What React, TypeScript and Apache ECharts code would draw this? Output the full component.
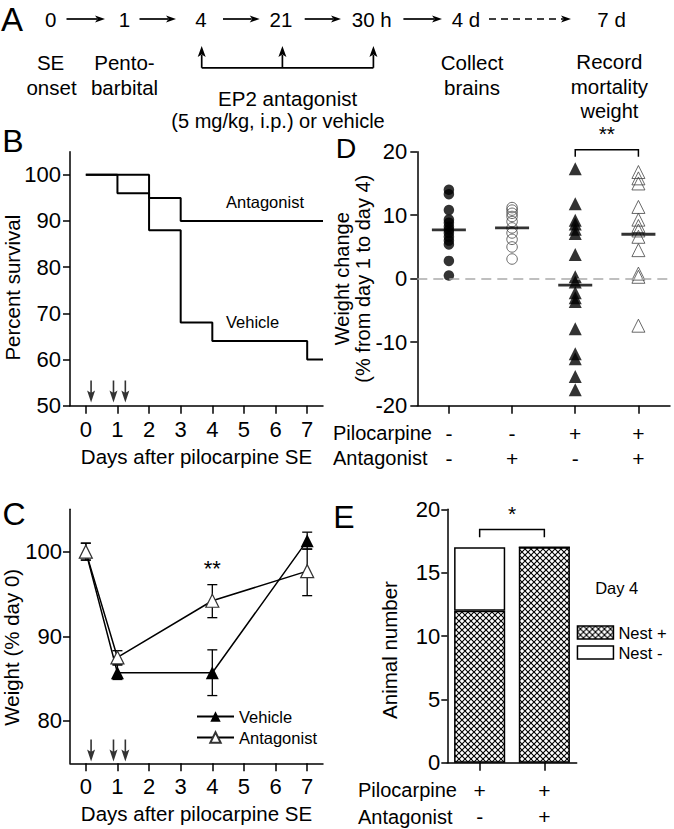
import React, { useEffect, useRef } from 'react';
import * as echarts from 'echarts';

const FONT = '"Liberation Sans", Arial, Helvetica, sans-serif';

// ---------- Panel B: survival ----------
const dayTicks = [0, 1, 2, 3, 4, 5, 6, 7];
const survivalTicks = [50, 60, 70, 80, 90, 100];
const vehicleSurvival: [number, number][] = [[0, 100], [1, 96], [2, 88], [3, 68], [4, 64], [7, 60], [7.5, 60]];
const antagonistSurvival: [number, number][] = [[0, 100], [2, 95], [3, 90], [7.5, 90]];
const injectionDays = [4 / 24, 21 / 24, 30 / 24];

// ---------- Panel C: weight ----------
const weightTicks = [80, 90, 100];
const weightDays = [0, 1, 4, 7];
const vehicleWeight = [100, 85.7, 85.7, 101.3];
const vehicleWeightLow = [99, 84.9, 83.0, 100.3];
const vehicleWeightHigh = [101, 86.6, 88.4, 102.3];
const antagonistWeight = [100, 87.5, 94.2, 97.7];
const antagonistWeightLow = [99, 86.7, 92.2, 94.8];
const antagonistWeightHigh = [101, 88.3, 96.1, 100.3];

// ---------- Panel D: weight change ----------
const dGroups = ['-\n-', '-\n+', '+\n-', '+\n+'];
const shamVehicle = [14, 13.3, 10.8, 9.3, 8.8, 8.2, 7.7, 7.2, 6.6, 6.0, 5.4, 2.8, 0.5];
const shamAntagonist = [11.2, 10.8, 10.3, 9.8, 9.0, 8.0, 7.2, 6.2, 5.0, 3.1];
const piloVehicle = [17.3, 11.8, 9.2, 8.6, 7.8, 7.1, 3.8, 0.3, -0.5, -2.2, -3.0, -3.6, -7.9, -11.8, -12.6, -15.4, -17.5];
const piloAntagonist = [16.8, 15.8, 15.0, 11.3, 9.3, 8.3, 7.6, 6.6, 4.5, 0.8, 0.3, -7.4];
const dMeans = [7.7, 8.0, -1.0, 7.0];

// ---------- Panel E: nesting ----------
const eGroups = ['+\n-', '+\n+'];
const nestPlus = [12, 17];
const nestMinus = [5, 0];

const ARROW = 'path://M3.2,0 L4.8,0 L4.8,12 L8,10 L4,22 L0,10 L3.2,12 Z';

function makeHatch() {
  const s = 6;
  const c = document.createElement('canvas');
  c.width = s;
  c.height = s;
  const ctx = c.getContext('2d')!;
  ctx.fillStyle = '#fff';
  ctx.fillRect(0, 0, s, s);
  ctx.strokeStyle = '#000';
  ctx.lineWidth = 1.1;
  ctx.beginPath();
  ctx.moveTo(-1, -1);
  ctx.lineTo(s + 1, s + 1);
  ctx.moveTo(s + 1, -1);
  ctx.lineTo(-1, s + 1);
  ctx.stroke();
  return { image: c, repeat: 'repeat', imageWidth: s, imageHeight: s } as any;
}

function txt(text: string, x: number, y: number, fontSize = 20, align = 'center') {
  return {
    type: 'text',
    x,
    y,
    style: {
      text,
      fontSize,
      fontFamily: FONT,
      fill: '#000',
      align,
      textAlign: align,
      verticalAlign: 'middle',
      textVerticalAlign: 'middle',
    },
  };
}

function hArrow(x1: number, x2: number, y: number, dashed = false) {
  const head = 10;
  const hw = 3.6;
  return [
    {
      type: 'line',
      shape: { x1, y1: y, x2: x2 - head + 2, y2: y },
      style: { stroke: '#000', lineWidth: 1.7, lineDash: dashed ? [7, 5] : null },
    },
    {
      type: 'polygon',
      shape: { points: [[x2, y], [x2 - head, y - hw], [x2 - head + 2.5, y], [x2 - head, y + hw]] },
      style: { fill: '#000' },
    },
  ];
}

function upArrow(x: number, yTip: number, yBase: number) {
  const head = 11;
  const hw = 4;
  return [
    { type: 'line', shape: { x1: x, y1: yBase, x2: x, y2: yTip + head - 2 }, style: { stroke: '#000', lineWidth: 1.7 } },
    {
      type: 'polygon',
      shape: { points: [[x, yTip], [x - hw, yTip + head], [x, yTip + head - 2.5], [x + hw, yTip + head]] },
      style: { fill: '#000' },
    },
  ];
}

const axisLine = { show: true, onZero: false, lineStyle: { color: '#000', width: 1.5 } };
const tickLine = { color: '#000', width: 1.5 };
const tickLabel = { color: '#000', fontSize: 22, fontFamily: FONT };
const nameStyle = { color: '#000', fontSize: 20.5, fontFamily: FONT };

function dayAxis(gridIndex: number) {
  return {
    type: 'value',
    gridIndex,
    min: -0.5,
    max: 7.5,
    axisLine,
    axisTick: { show: true, length: 8, lineStyle: tickLine, customValues: dayTicks },
    axisLabel: { ...tickLabel, margin: 12.5, customValues: dayTicks },
    splitLine: { show: false },
    name: 'Days after pilocarpine SE',
    nameLocation: 'middle',
    nameGap: 40,
    nameMoveOverlap: false,
    nameTextStyle: nameStyle,
  };
}

function errorBars(low: number[], high: number[]) {
  return {
    type: 'custom',
    xAxisIndex: 1,
    yAxisIndex: 1,
    silent: true,
    data: weightDays.map((d, i) => [d, low[i], high[i]]),
    renderItem: (params: any, api: any) => {
      const x = api.value(0);
      const pLo = api.coord([x, api.value(1)]);
      const pHi = api.coord([x, api.value(2)]);
      const w = 5;
      const st = { stroke: '#000', lineWidth: 1.3 };
      return {
        type: 'group',
        children: [
          { type: 'line', shape: { x1: pLo[0], y1: pLo[1], x2: pHi[0], y2: pHi[1] }, style: st },
          { type: 'line', shape: { x1: pHi[0] - w, y1: pHi[1], x2: pHi[0] + w, y2: pHi[1] }, style: st },
          { type: 'line', shape: { x1: pLo[0] - w, y1: pLo[1], x2: pLo[0] + w, y2: pLo[1] }, style: st },
        ],
      };
    },
  };
}

function bracket(xAxisIndex: number, yAxisIndex: number, row: number[], star: string) {
  return {
    type: 'custom',
    xAxisIndex,
    yAxisIndex,
    silent: true,
    clip: false,
    data: [row],
    renderItem: (params: any, api: any) => {
      const a = api.coord([api.value(0), api.value(2)]);
      const b = api.coord([api.value(1), api.value(2)]);
      const low = api.coord([api.value(0), api.value(3)]);
      const s = api.coord([api.value(0), api.value(4)]);
      const mid = (a[0] + b[0]) / 2;
      return {
        type: 'group',
        children: [
          {
            type: 'polyline',
            shape: { points: [[a[0], low[1]], [a[0], a[1]], [b[0], b[1]], [b[0], low[1]]] },
            style: { stroke: '#000', lineWidth: 1.5, fill: null },
          },
          {
            type: 'text',
            x: mid,
            y: s[1],
            style: {
              text: star, fontSize: 21, fontFamily: FONT, fill: '#000',
              align: 'center', textAlign: 'center', verticalAlign: 'middle', textVerticalAlign: 'middle',
            },
          },
        ],
      };
    },
  };
}

function buildOption() {
  const hatch = makeHatch();
  const graphics: any[] = [
    // panel letters
    txt('A', 12, 19, 33),
    txt('B', 13, 141, 32),
    txt('C', 14, 514, 32),
    txt('D', 346, 148, 28.5),
    txt('E', 344, 517, 32),
    // panel A timeline
    txt('0', 50.6, 19, 20.5),
    txt('1', 124.5, 19, 20.5),
    txt('4', 201, 19, 20.5),
    txt('21', 281, 19, 20.5),
    txt('30 h', 371.8, 19, 20.5),
    txt('4 d', 466, 19, 20.5),
    txt('7 d', 611.6, 19, 20.5),
    ...hArrow(66.5, 105, 19),
    ...hArrow(139.5, 176, 19),
    ...hArrow(223, 259.7, 19),
    ...hArrow(304.7, 341, 19),
    ...hArrow(403.4, 442, 19),
    ...hArrow(489, 571, 19, true),
    txt('SE', 50.6, 62, 20.5),
    txt('onset', 51.5, 87, 20.5),
    txt('Pento-', 124.5, 62, 20.5),
    txt('barbital', 124.5, 87, 20.5),
    txt('Collect', 472, 62, 20.5),
    txt('brains', 472, 87, 20.5),
    txt('Record', 609.4, 61.5, 20.5),
    txt('mortality', 609.4, 86, 20.5),
    txt('weight', 609.4, 110.5, 20),
    ...upArrow(201.7, 46, 67.8),
    ...upArrow(282.4, 46, 67.8),
    ...upArrow(373.4, 46, 67.8),
    { type: 'line', shape: { x1: 201.7, y1: 67.8, x2: 373.4, y2: 67.8 }, style: { stroke: '#000', lineWidth: 1.7 } },
    txt('EP2 antagonist', 287.6, 98, 20.5),
    txt('(5 mg/kg, i.p.) or vehicle', 278, 120.5, 20),
    // panel B curve labels
    txt('Antagonist', 226, 201.7, 16.5, 'left'),
    txt('Vehicle', 226, 321.7, 16.5, 'left'),
    // panel D row labels
    txt('Pilocarpine', 333, 433.3, 20, 'left'),
    txt('Antagonist', 333, 458.3, 20, 'left'),
    // panel E row labels
    txt('Pilocarpine', 358, 790, 20, 'left'),
    txt('Antagonist', 358, 816.7, 20, 'left'),
    txt('Day 4', 616.7, 588.3, 16.5),
  ];

  return {
    animation: false,
    backgroundColor: '#fff',
    textStyle: { fontFamily: FONT, color: '#000' },
    grid: [
      { left: 70, top: 151.7, width: 253, height: 254, outerBoundsMode: 'none', containLabel: false },
      { left: 70, top: 509.3, width: 253, height: 254, outerBoundsMode: 'none', containLabel: false },
      { left: 417.3, top: 151.7, width: 252.7, height: 254, outerBoundsMode: 'none', containLabel: false },
      { left: 447.3, top: 509.3, width: 129.4, height: 253.4, outerBoundsMode: 'none', containLabel: false },
    ],
    xAxis: [
      dayAxis(0),
      dayAxis(1),
      {
        type: 'category',
        gridIndex: 2,
        data: dGroups,
        axisLine,
        axisTick: { show: true, alignWithLabel: true, length: 8, lineStyle: tickLine },
        axisLabel: { ...tickLabel, fontSize: 21, interval: 0, margin: 15, lineHeight: 25 },
        splitLine: { show: false },
      },
      {
        type: 'category',
        gridIndex: 3,
        data: eGroups,
        axisLine,
        axisTick: { show: true, alignWithLabel: true, length: 8, lineStyle: tickLine },
        axisLabel: { ...tickLabel, fontSize: 21, interval: 0, margin: 14, lineHeight: 26.7 },
        splitLine: { show: false },
      },
    ],
    yAxis: [
      {
        type: 'value',
        gridIndex: 0,
        min: 50,
        max: 105,
        axisLine,
        axisTick: { show: true, length: 7, lineStyle: tickLine, customValues: survivalTicks },
        axisLabel: { ...tickLabel, margin: 9, customValues: survivalTicks },
        splitLine: { show: false },
        name: 'Percent survival',
        nameLocation: 'middle',
        nameGap: 47,
        nameMoveOverlap: false,
        nameTextStyle: { ...nameStyle, padding: [0, 18, 0, 0] },
      },
      {
        type: 'value',
        gridIndex: 1,
        min: 75,
        max: 105,
        axisLine,
        axisTick: { show: true, length: 7, lineStyle: tickLine, customValues: weightTicks },
        axisLabel: { ...tickLabel, margin: 8, customValues: weightTicks },
        splitLine: { show: false },
        name: 'Weight (% day 0)',
        nameLocation: 'middle',
        nameGap: 48,
        nameMoveOverlap: false,
        nameTextStyle: { ...nameStyle, padding: [0, 22, 0, 0] },
      },
      {
        type: 'value',
        gridIndex: 2,
        min: -20,
        max: 20,
        interval: 10,
        axisLine,
        axisTick: { show: true, length: 7, lineStyle: tickLine },
        axisLabel: { ...tickLabel, margin: 10 },
        splitLine: { show: false },
        name: 'Weight change\n(% from day 1 to day 4)',
        nameLocation: 'middle',
        nameGap: 44,
        nameMoveOverlap: false,
        nameTextStyle: { ...nameStyle, fontSize: 20, lineHeight: 21 },
      },
      {
        type: 'value',
        gridIndex: 3,
        min: 0,
        max: 20,
        interval: 5,
        axisLine,
        axisTick: { show: true, length: 6, lineStyle: tickLine },
        axisLabel: { ...tickLabel, margin: 7 },
        splitLine: { show: false },
        name: 'Animal number',
        nameLocation: 'middle',
        nameGap: 47,
        nameMoveOverlap: false,
        nameTextStyle: { ...nameStyle, padding: [0, 28, 0, 0] },
      },
    ],
    legend: [
      {
        data: ['Vehicle', 'Antagonist'],
        orient: 'vertical',
        left: 196,
        top: 708,
        padding: 0,
        itemWidth: 37,
        itemHeight: 13,
        itemGap: 4,
        selectedMode: false,
        textStyle: { color: '#000', fontSize: 16.5, fontFamily: FONT },
      },
      {
        data: ['Nest +', 'Nest -'],
        orient: 'vertical',
        left: 576.7,
        top: 624,
        padding: 0,
        icon: 'rect',
        itemWidth: 36,
        itemHeight: 13,
        itemGap: 3,
        selectedMode: false,
        itemStyle: { borderColor: '#000', borderWidth: 1.5 },
        textStyle: { color: '#000', fontSize: 16.5, fontFamily: FONT },
      },
    ],
    series: [
      // B
      {
        name: 'Vehicle survival',
        type: 'line',
        xAxisIndex: 0,
        yAxisIndex: 0,
        step: 'end',
        data: vehicleSurvival,
        symbol: 'none',
        silent: true,
        lineStyle: { color: '#000', width: 2 },
      },
      {
        name: 'Antagonist survival',
        type: 'line',
        xAxisIndex: 0,
        yAxisIndex: 0,
        step: 'end',
        data: antagonistSurvival,
        symbol: 'none',
        silent: true,
        lineStyle: { color: '#000', width: 2 },
      },
      {
        name: 'Injections B',
        type: 'scatter',
        xAxisIndex: 0,
        yAxisIndex: 0,
        data: injectionDays.map((d) => [d, 53.1]),
        symbol: ARROW,
        symbolSize: [8, 22],
        silent: true,
        itemStyle: { color: '#000' },
      },
      // C
      errorBars(vehicleWeightLow, vehicleWeightHigh),
      errorBars(antagonistWeightLow, antagonistWeightHigh),
      {
        name: 'Vehicle',
        type: 'line',
        xAxisIndex: 1,
        yAxisIndex: 1,
        data: weightDays.map((d, i) => [d, vehicleWeight[i]]),
        symbol: 'triangle',
        symbolSize: 13,
        silent: true,
        itemStyle: { color: '#000' },
        lineStyle: { color: '#000', width: 1.5 },
      },
      {
        name: 'Antagonist',
        type: 'line',
        xAxisIndex: 1,
        yAxisIndex: 1,
        data: weightDays.map((d, i) => [d, antagonistWeight[i]]),
        symbol: 'triangle',
        symbolSize: 13,
        silent: true,
        itemStyle: { color: '#fff', borderColor: '#333', borderWidth: 1.2 },
        lineStyle: { color: '#000', width: 1.5 },
      },
      {
        name: 'Injections C',
        type: 'scatter',
        xAxisIndex: 1,
        yAxisIndex: 1,
        data: injectionDays.map((d) => [d, 76.5]),
        symbol: ARROW,
        symbolSize: [8, 22],
        silent: true,
        itemStyle: { color: '#000' },
      },
      {
        type: 'custom',
        xAxisIndex: 1,
        yAxisIndex: 1,
        silent: true,
        clip: false,
        data: [[4, 97.96]],
        renderItem: (params: any, api: any) => {
          const p = api.coord([api.value(0), api.value(1)]);
          return {
            type: 'text',
            x: p[0],
            y: p[1],
            style: {
              text: '**', fontSize: 22, fontFamily: FONT, fill: '#000',
              align: 'center', textAlign: 'center', verticalAlign: 'middle', textVerticalAlign: 'middle',
            },
          };
        },
      },
      // D
      {
        name: 'Sham vehicle',
        type: 'scatter',
        xAxisIndex: 2,
        yAxisIndex: 2,
        data: shamVehicle.map((v) => [0, v]),
        symbol: 'circle',
        symbolSize: 10.5,
        silent: true,
        itemStyle: { color: '#000' },
        markLine: {
          silent: true,
          symbol: ['none', 'none'],
          label: { show: false },
          lineStyle: { color: '#aaa', width: 1.5, type: [10, 6] },
          data: [{ yAxis: 0 }],
        },
      },
      {
        name: 'Sham antagonist',
        type: 'scatter',
        xAxisIndex: 2,
        yAxisIndex: 2,
        data: shamAntagonist.map((v) => [1, v]),
        symbol: 'circle',
        symbolSize: 10.5,
        silent: true,
        itemStyle: { color: 'rgba(255,255,255,0)', borderColor: '#444', borderWidth: 1 },
      },
      {
        name: 'Pilocarpine vehicle',
        type: 'scatter',
        xAxisIndex: 2,
        yAxisIndex: 2,
        data: piloVehicle.map((v) => [2, v]),
        symbol: 'triangle',
        symbolSize: 13,
        silent: true,
        itemStyle: { color: '#000' },
      },
      {
        name: 'Pilocarpine antagonist',
        type: 'scatter',
        xAxisIndex: 2,
        yAxisIndex: 2,
        data: piloAntagonist.map((v) => [3, v]),
        symbol: 'triangle',
        symbolSize: 13,
        silent: true,
        itemStyle: { color: 'rgba(255,255,255,0)', borderColor: '#444', borderWidth: 1 },
      },
      {
        name: 'Means',
        type: 'scatter',
        xAxisIndex: 2,
        yAxisIndex: 2,
        data: dMeans.map((m, i) => [i, m]),
        symbol: 'rect',
        symbolSize: [34, 2.8],
        silent: true,
        z: 5,
        itemStyle: { color: '#000' },
      },
      bracket(2, 2, [2, 3, 20.3, 19.2, 22.8], '**'),
      // E
      {
        name: 'Nest +',
        type: 'bar',
        xAxisIndex: 3,
        yAxisIndex: 3,
        stack: 'nest',
        data: nestPlus,
        barCategoryGap: '21%',
        silent: true,
        itemStyle: { color: hatch, borderColor: '#000', borderWidth: 1.5 },
      },
      {
        name: 'Nest -',
        type: 'bar',
        xAxisIndex: 3,
        yAxisIndex: 3,
        stack: 'nest',
        data: nestMinus,
        barCategoryGap: '21%',
        silent: true,
        itemStyle: { color: '#fff', borderColor: '#000', borderWidth: 1.5 },
      },
      bracket(3, 3, [0, 1, 18.4, 17.8, 19.7], '*'),
    ],
    graphic: { elements: graphics },
  };
}

export default function App() {
  const ref = useRef<HTMLDivElement>(null);
  useEffect(() => {
    document.body.style.margin = '0';
    const chart = echarts.init(ref.current!, null, { renderer: 'svg' });
    chart.setOption(buildOption() as any);
    return () => chart.dispose();
  }, []);
  return (
    <div
      ref={ref}
      style={{ position: 'absolute', left: 0, top: 0, width: 674, height: 829, background: '#fff' }}
    />
  );
}
